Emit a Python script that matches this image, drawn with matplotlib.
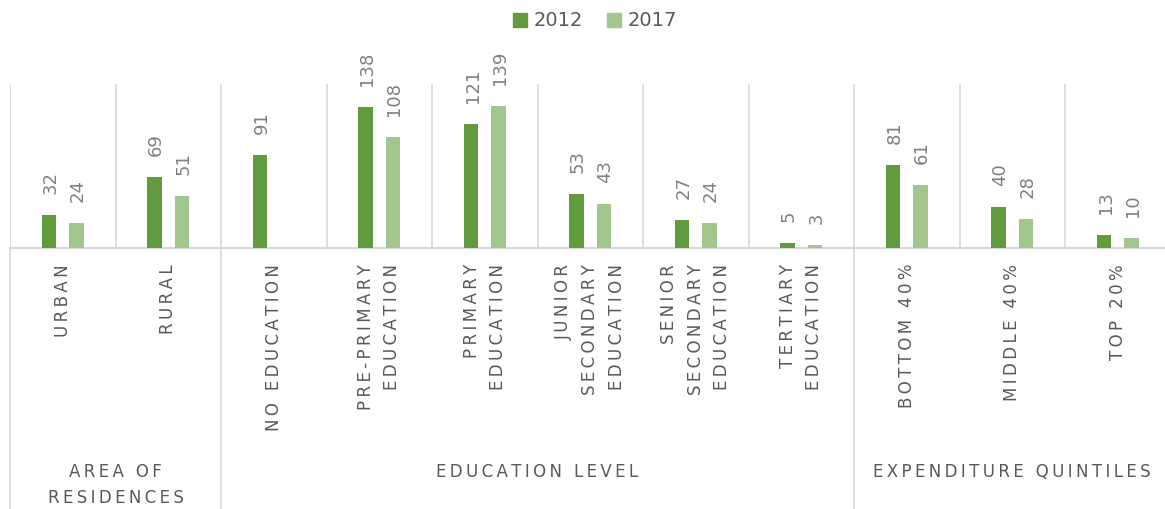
import numpy as np
import matplotlib
matplotlib.use("Agg")
import matplotlib.pyplot as plt
import matplotlib.transforms as mtransforms
from matplotlib.patches import Patch

# data
categories = ["URBAN", "RURAL", "NO EDUCATION", "PRE-PRIMARY\nEDUCATION",
              "PRIMARY\nEDUCATION", "JUNIOR\nSECONDARY\nEDUCATION",
              "SENIOR\nSECONDARY\nEDUCATION", "TERTIARY\nEDUCATION",
              "BOTTOM 40%", "MIDDLE 40%", "TOP 20%"]
groups = ["AREA OF\nRESIDENCES", "EDUCATION LEVEL", "EXPENDITURE QUINTILES"]
group_sizes = [2, 6, 3]
vals_2012 = [32, 69, 91, 138, 121, 53, 27, 5, 81, 40, 13]
vals_2017 = [24, 51, None, 108, 139, 43, 24, 3, 61, 28, 10]
series = ["2012", "2017"]

C2012 = "#629B3D"
C2017 = "#A3C68F"
GRID = "#D9D9D9"
TXT = "#595959"
LBL = "#808080"

plt.rcParams['font.family'] = ['DejaVu Sans']

W, H = 1165, 509


def fy(px):
    return 1 - px / H


def spaced(s):
    # wide letter spacing like the original
    return "\n".join("\u2009".join(line) for line in s.split("\n"))


fig = plt.figure(figsize=(W / 100, H / 100), dpi=100)
ax = fig.add_axes([10 / W, fy(248), 1160.5 / W, 164 / H])
ax.set_xlim(0, len(categories))
ax.set_ylim(0, 160)
ax.axis("off")

x = np.arange(len(categories)) + 0.5
bw = 0.14
off = 0.13

for k in range(len(categories) + 1):
    ax.axvline(k, color=GRID, lw=1.2, zorder=0)
ax.axhline(0, color=GRID, lw=1.5, zorder=1, clip_on=False)

for vals, col, sgn in [(vals_2012, C2012, -1), (vals_2017, C2017, 1)]:
    for xi, v in zip(x, vals):
        if v is None:
            continue
        ax.bar(xi + sgn * off, v, width=bw, color=col, zorder=2)
        ax.annotate(str(v), (xi + sgn * off, v), xytext=(1.5, 21),
                    textcoords="offset pixels", rotation=90,
                    ha="center", va="bottom", fontsize=13, color=LBL,
                    annotation_clip=False)

trans = mtransforms.blended_transform_factory(ax.transData, fig.transFigure)

for xi, lab in zip(x, categories):
    ax.text(xi, fy(264), spaced(lab), transform=trans, rotation=90,
            ha="center", va="top", multialignment="right",
            fontsize=12, color=TXT, linespacing=1.6)

# group separators and labels
start = 0
bounds = [0]
for g, n in zip(groups, group_sizes):
    ax.text(start + n / 2, fy(463), spaced(g), transform=trans,
            ha="center", va="top", multialignment="center",
            fontsize=12, color=TXT, linespacing=1.6)
    start += n
    bounds.append(start)
for b in bounds:
    ax.plot([b, b], [fy(248), 0], transform=trans, color=GRID, lw=1.2,
            clip_on=False)

handles = [Patch(color=C2012, label=series[0]), Patch(color=C2017, label=series[1])]
leg = fig.legend(handles=handles, loc="center", bbox_to_anchor=(595 / W, fy(21)),
                 ncol=2, frameon=False, fontsize=14, handlelength=0.75,
                 handleheight=0.75, handletextpad=0.35, columnspacing=1.2)
for t in leg.get_texts():
    t.set_color(TXT)

fig.savefig("out.png", dpi=100)
